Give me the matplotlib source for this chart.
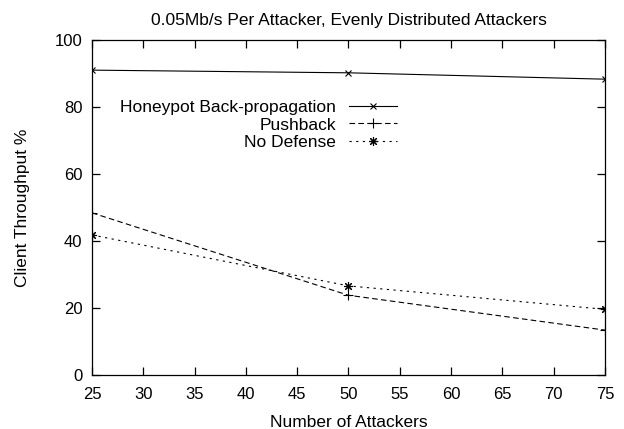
import matplotlib.pyplot as plt

plt.rcParams['font.family'] = ['Liberation Sans', 'DejaVu Sans']

attackers = [25, 50, 75]
honeypot = [91.0, 90.2, 88.3]
pushback = [48.4, 23.8, 13.4]
no_defense = [41.8, 26.6, 19.6]

fig = plt.figure(figsize=(6.24, 4.29), dpi=100)
ax = fig.add_axes([0.1474, 0.1259, 0.8221, 0.7809])

ax.plot(attackers, honeypot, color='black', lw=0.8, ls='-', marker='x', ms=5, mew=0.8,
        label='Honeypot Back-propagation')
ax.plot(attackers, pushback, color='black', lw=0.8, ls=(0, (5, 3)), marker='+', ms=7, mew=0.8,
        label='Pushback')
ax.plot(attackers, no_defense, color='black', lw=0.8, ls=(0, (2, 4)), marker=(8, 2, 0), ms=6.5, mew=0.8,
        label='No Defense')

ax.set_xlim(25, 75)
ax.set_ylim(0, 100)
ax.set_xticks(range(25, 80, 5))
ax.set_yticks(range(0, 101, 20))
ax.tick_params(axis='x', pad=9)
ax.tick_params(axis='y', pad=7)
ax.tick_params(direction='in', top=True, right=True, length=5.5, width=0.9, labelsize=12)
for s in ax.spines.values():
    s.set_linewidth(0.9)

ax.set_xlabel('Number of Attackers', fontsize=12.5, labelpad=9)
ax.set_ylabel('Client Throughput %', fontsize=12.5, labelpad=18)
ax.set_title('0.05Mb/s Per Attacker, Evenly Distributed Attackers', fontsize=12.5, pad=11)

leg = ax.legend(loc='upper right', bbox_to_anchor=(397 / 624, (429 - 100) / 429),
                bbox_transform=fig.transFigure, markerfirst=False, frameon=False,
                fontsize=12.5, handlelength=2.76, handletextpad=0.75, labelspacing=0.13,
                borderaxespad=0, borderpad=0)
for t in leg.get_texts():
    t.set_ha('right')
leg._legend_box.align = 'right'

fig.savefig('out.png', dpi=100)
